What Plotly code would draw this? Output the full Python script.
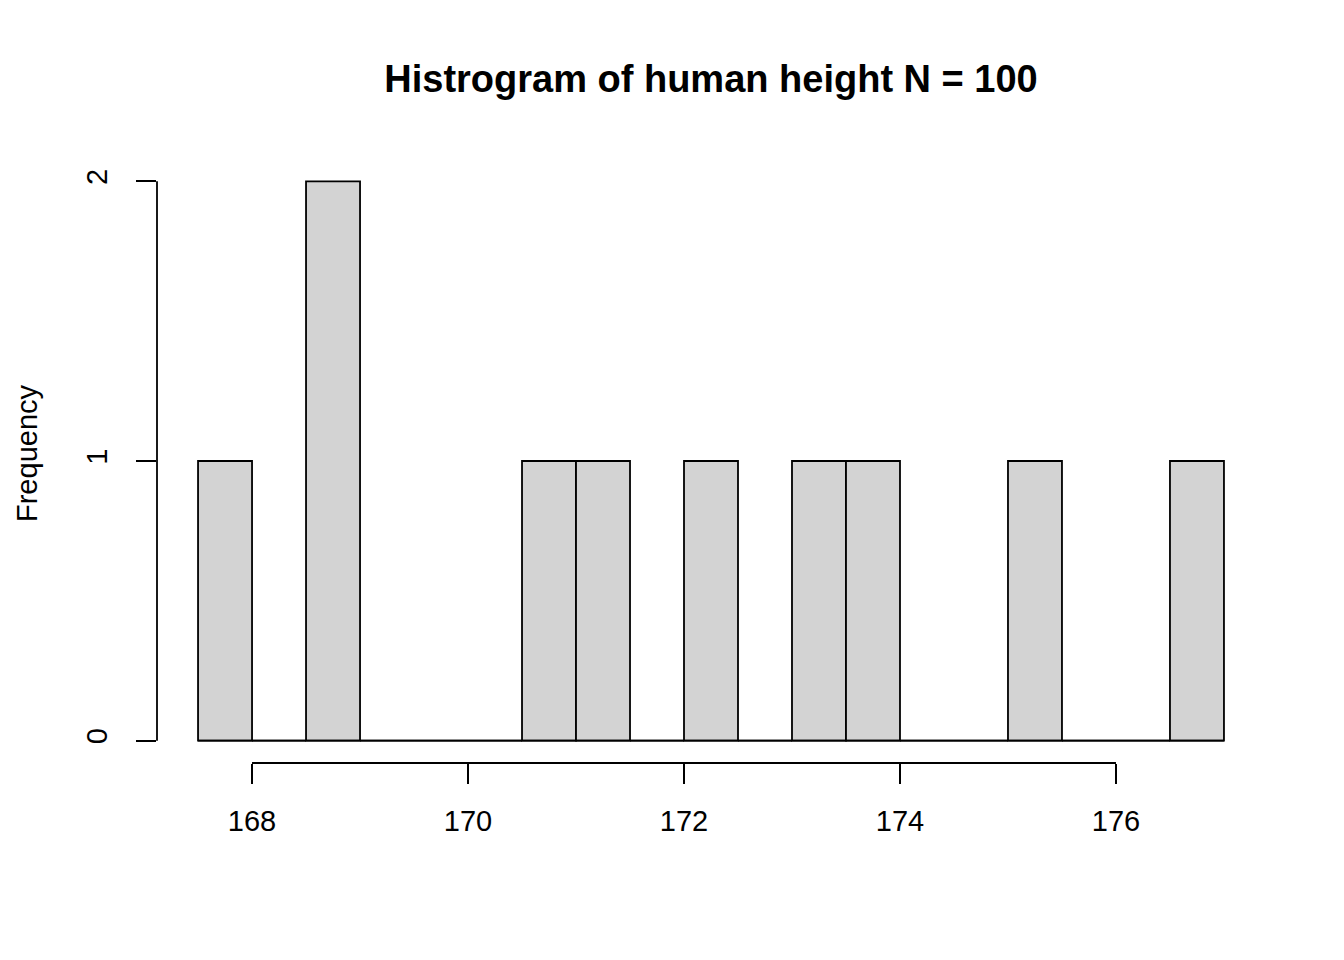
import plotly.graph_objects as go

# Histogram bins (left edges) and counts
bin_left = [167.5, 168.0, 168.5, 169.0, 169.5, 170.0, 170.5, 171.0, 171.5, 172.0,
            172.5, 173.0, 173.5, 174.0, 174.5, 175.0, 175.5, 176.0, 176.5]
counts = [1, 0, 2, 0, 0, 0, 1, 1, 0, 1, 0, 1, 1, 0, 0, 1, 0, 0, 1]
bin_width = 0.5

x_ticks = [168, 170, 172, 174, 176]
y_ticks = [0, 1, 2]

title_text = "Histrogram of human height N = 100"
y_label = "Frequency"

centers = [b + bin_width / 2 for b in bin_left]
x_lo, x_hi = bin_left[0], bin_left[-1] + bin_width

# R style 4% padding of the axis ranges
xpad = (x_hi - x_lo) * 0.04
ypad = (max(counts) - 0) * 0.04
x_range = [x_lo - xpad, x_hi + xpad]
y_range = [0 - ypad, max(counts) + ypad]

line_w = 1.8
font_family = "Liberation Sans, Arial, Helvetica, sans-serif"

fig = go.Figure()

# baseline under empty bins (R draws zero-height rectangles)
fig.add_trace(go.Scatter(
    x=[x_lo, x_hi], y=[0, 0], mode="lines",
    line=dict(color="black", width=line_w), hoverinfo="skip", showlegend=False
))

fig.add_trace(go.Bar(
    x=centers, y=counts, width=bin_width,
    marker=dict(color="#D3D3D3", line=dict(color="black", width=line_w)),
    showlegend=False
))

fig.update_layout(
    width=1344, height=960,
    paper_bgcolor="white", plot_bgcolor="white",
    margin=dict(l=149, r=87, t=151, b=205),
    font=dict(family=font_family, color="black", size=29),
    title=dict(
        text="<b>" + title_text + "</b>",
        x=703 / 1344, xanchor="center", y=1 - 71 / 960, yanchor="middle",
        font=dict(size=38, family=font_family, color="black"),
    ),
    xaxis=dict(
        range=x_range, showgrid=False, zeroline=False, showline=False,
        tickmode="array", tickvals=x_ticks, ticktext=[str(t) for t in x_ticks],
        ticks="outside", ticklen=20, tickwidth=line_w, tickcolor="black",
        ticklabelstandoff=12, automargin=False,
        tickfont=dict(size=29),
    ),
    yaxis=dict(
        range=y_range, showgrid=False, zeroline=False, showline=False,
        tickmode="array", tickvals=y_ticks, ticktext=[str(t) for t in y_ticks],
        ticks="outside", ticklen=20, tickwidth=line_w, tickcolor="black",
        tickangle=-90, ticklabelstandoff=17, automargin=False,
        tickfont=dict(size=29),
    ),
    shapes=[
        # R style axis lines spanning only the tick range
        dict(type="line", xref="x", yref="paper",
             x0=x_ticks[0], x1=x_ticks[-1], y0=0, y1=0,
             line=dict(color="black", width=line_w)),
        dict(type="line", xref="paper", yref="y",
             x0=0, x1=0, y0=y_ticks[0], y1=y_ticks[-1],
             line=dict(color="black", width=line_w)),
    ],
    annotations=[
        dict(text=y_label, xref="paper", yref="paper", x=0, y=0.5,
             xanchor="center", yanchor="middle", xshift=-130, yshift=8,
             textangle=-90, showarrow=False, font=dict(size=29)),
    ],
)

fig.write_html("out.html")
